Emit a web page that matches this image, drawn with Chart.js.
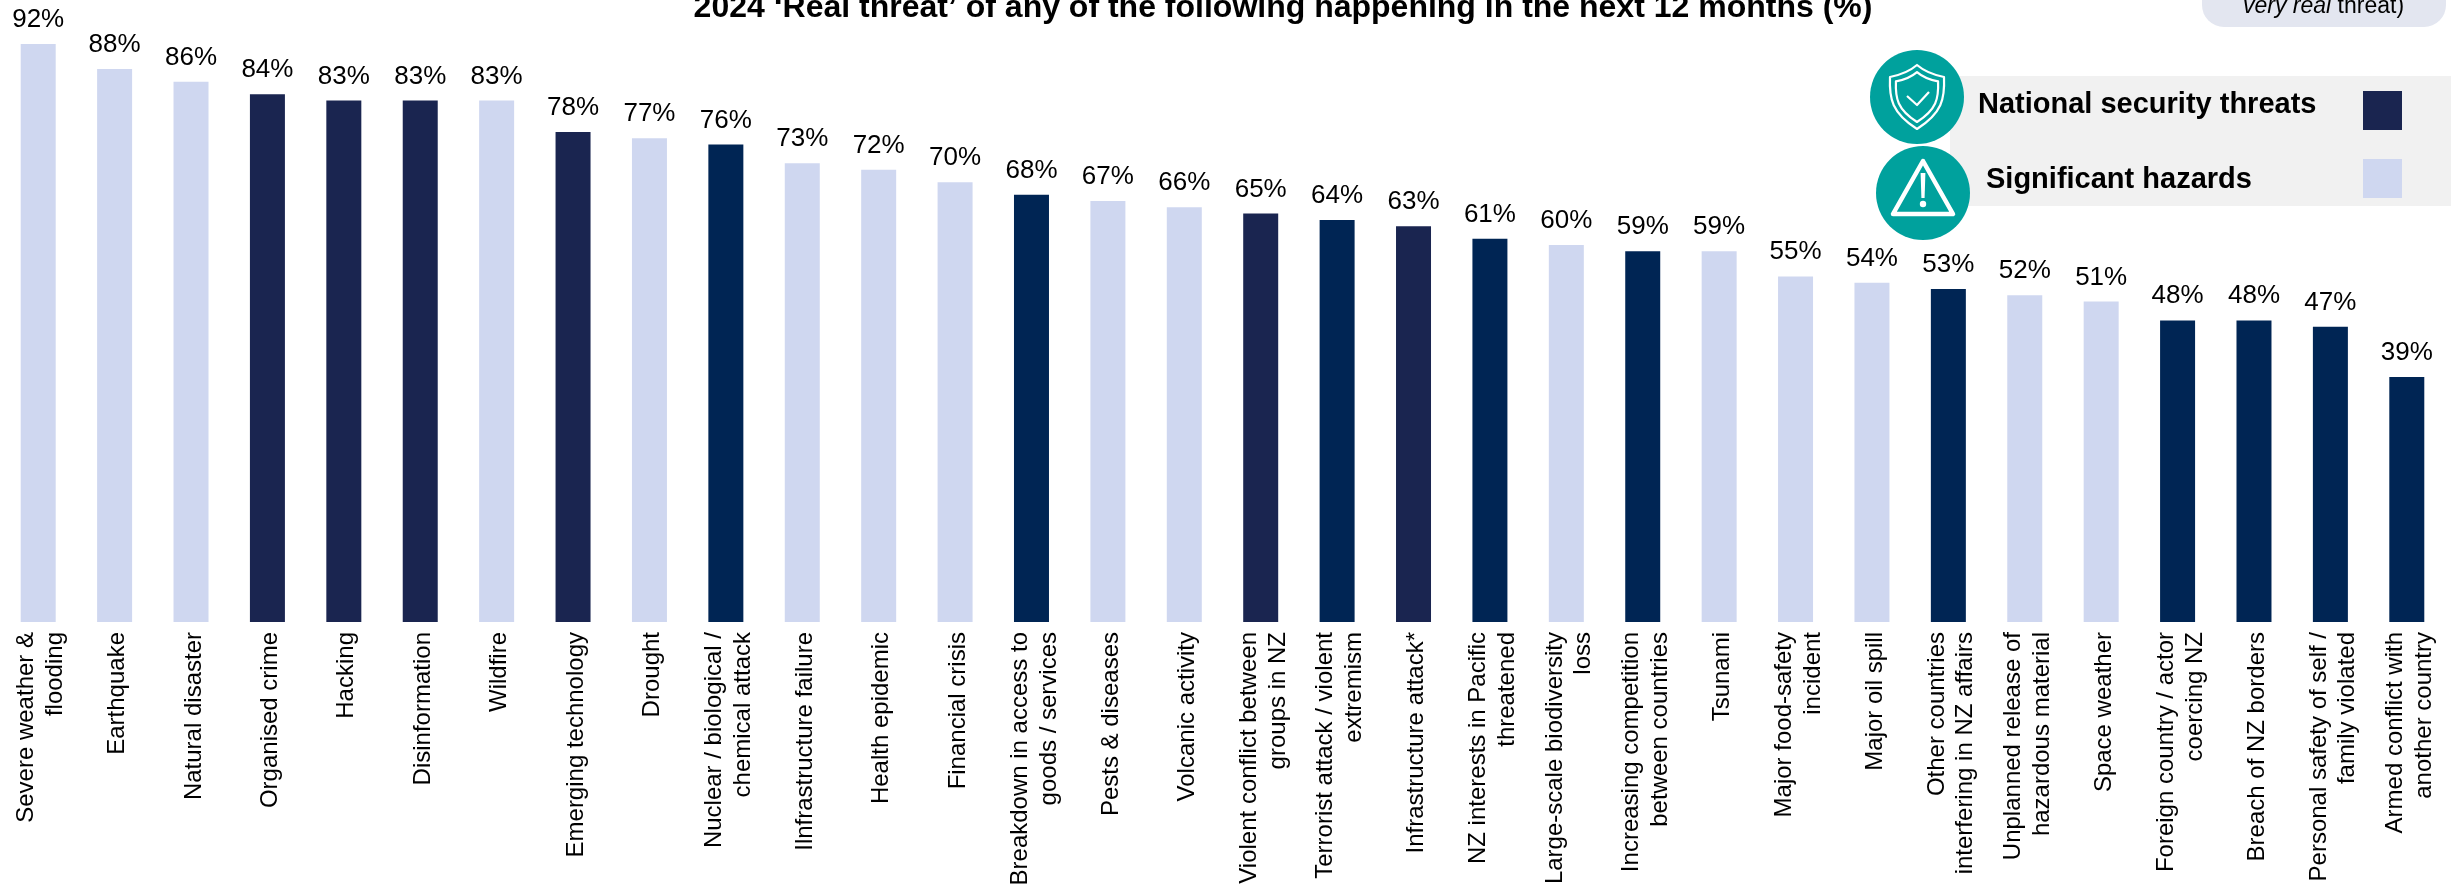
<!DOCTYPE html>
<html>
<head>
<meta charset="utf-8">
<style>
  html, body { margin: 0; padding: 0; background: #fff; overflow: hidden; }
  #wrap { position: relative; width: 2451px; height: 885px; }
</style>
<script src="https://cdn.jsdelivr.net/npm/chart.js@4/dist/chart.umd.min.js"></script>
</head>
<body>
<div id="wrap"><canvas id="chart" width="2451" height="885"></canvas></div>
<script>
const categories = [
  ["Severe weather &", "flooding"], "Earthquake", "Natural disaster", "Organised crime",
  "Hacking", "Disinformation", "Wildfire", "Emerging technology", "Drought",
  ["Nuclear / biological /", "chemical attack"], "Ilnfrastructure failure", "Health epidemic",
  "Financial crisis", ["Breakdown in access to", "goods / services"], "Pests & diseases",
  "Volcanic activity", ["Violent conflict between", "groups in NZ"],
  ["Terrorist attack / violent", "extremism"], "Infrastructure attack*",
  ["NZ interests in Pacific", "threatened"], ["Large-scale biodiversity", "loss"],
  ["Increasing competition", "between countries"], "Tsunami", ["Major food-safety", "incident"],
  "Major oil spill", ["Other countries", "interfering in NZ affairs"],
  ["Unplanned release of", "hazardous material"], "Space weather",
  ["Foreign country / actor", "coercing NZ"], "Breach of NZ borders",
  ["Personal safety of self /", "family violated"], ["Armed conflict with", "another country"]
];
const values = [92, 88, 86, 84, 83, 83, 83, 78, 77, 76, 73, 72, 70, 68, 67, 66,
                65, 64, 63, 61, 60, 59, 59, 55, 54, 53, 52, 51, 48, 48, 47, 39];
const groups = ["h", "h", "h", "s", "s", "s", "h", "s", "h", "n", "h", "h", "h", "n", "h", "h",
                "s", "n", "s", "n", "h", "n", "h", "h", "h", "n", "h", "h", "n", "n", "n", "n"];
const groupColours = { h: "#CFD7F0", s: "#1A2550", n: "#002554" };
const chartTitle = "2024 ‘Real threat’ of any of the following happening in the next 12 months (%)";
const legendLabels = ["National security threats", "Significant hazards"];

const FONT = '"Liberation Sans", Arial, sans-serif';
const TICK_SIZE = 24;
const TICK_LINE_HEIGHT = 1.2;

// Centres multi-line category labels on their bar instead of hanging them from the first line.
const centreTickLines = {
  id: "centreTickLines",
  beforeDraw(chart) {
    const step = TICK_SIZE * TICK_LINE_HEIGHT;
    chart.scales.x.getLabelItems(chart.chartArea).forEach((item) => {
      if (item.centred) return;
      item.centred = true;
      item.options.translation[0] += 3;
      if (Array.isArray(item.label)) {
        item.textOffset -= (item.label.length - 1) * step / 2;
      }
    });
  }
};

// Percentage figure above every bar, positioned from the bar element itself.
const valueLabels = {
  id: "valueLabels",
  afterDatasetsDraw(chart) {
    const { ctx } = chart;
    ctx.save();
    ctx.font = "26px " + FONT;
    ctx.fillStyle = "#000";
    ctx.textAlign = "center";
    ctx.textBaseline = "alphabetic";
    chart.getDatasetMeta(0).data.forEach((bar, i) => {
      ctx.fillText(values[i] + "%", bar.x, bar.y - 17);
    });
    ctx.restore();
  }
};

function shieldIcon(ctx, cx, cy) {
  ctx.save();
  ctx.translate(cx, cy);
  ctx.strokeStyle = "#fff";
  ctx.lineWidth = 2.2;
  ctx.lineJoin = "round";
  const outline = (s) => {
    ctx.beginPath();
    ctx.moveTo(0, -32 * s);
    ctx.bezierCurveTo(7 * s, -26 * s, 17 * s, -22 * s, 27 * s, -20 * s);
    ctx.bezierCurveTo(28 * s, 2 * s, 25 * s, 16 * s, 0, 32 * s);
    ctx.bezierCurveTo(-25 * s, 16 * s, -28 * s, 2 * s, -27 * s, -20 * s);
    ctx.bezierCurveTo(-17 * s, -22 * s, -7 * s, -26 * s, 0, -32 * s);
    ctx.closePath();
    ctx.stroke();
  };
  outline(1);
  outline(0.78);
  ctx.beginPath();
  ctx.moveTo(-10, -1);
  ctx.lineTo(0, 8);
  ctx.lineTo(12, -5);
  ctx.stroke();
  ctx.restore();
}

function warningIcon(ctx, cx, cy) {
  ctx.save();
  ctx.translate(cx, cy);
  ctx.strokeStyle = "#fff";
  ctx.fillStyle = "#fff";
  ctx.lineWidth = 4.5;
  ctx.lineJoin = "round";
  ctx.beginPath();
  ctx.moveTo(0, -32);
  ctx.lineTo(30, 21);
  ctx.lineTo(-30, 21);
  ctx.closePath();
  ctx.stroke();
  ctx.beginPath();
  ctx.moveTo(-2.4, -20);
  ctx.lineTo(2.4, -20);
  ctx.lineTo(1.6, 5);
  ctx.lineTo(-1.6, 5);
  ctx.closePath();
  ctx.fill();
  ctx.beginPath();
  ctx.arc(0, 11, 3.2, 0, Math.PI * 2);
  ctx.fill();
  ctx.restore();
}

// Heading, note pill and the icon legend around the plot.
const furniture = {
  id: "furniture",
  afterDraw(chart) {
    const { ctx } = chart;
    ctx.save();
    ctx.fillStyle = "#000";
    ctx.textBaseline = "alphabetic";

    ctx.font = "bold 32px " + FONT;
    ctx.textAlign = "center";
    ctx.fillText(chartTitle, 1283, 17);

    // Note pill, running off the top edge
    ctx.fillStyle = "#E3E6F0";
    ctx.beginPath();
    ctx.roundRect(2202, -40, 244, 67, 22);
    ctx.fill();
    ctx.fillStyle = "#000";
    ctx.textAlign = "left";
    ctx.font = "italic 23px " + FONT;
    ctx.fillText("very real", 2243, 13);
    const w = ctx.measureText("very real ").width;
    ctx.font = "23px " + FONT;
    ctx.fillText("threat)", 2243 + w, 13);

    // Legend band
    ctx.fillStyle = "#F1F1F1";
    ctx.fillRect(1950, 76, 501, 130);
    ctx.fillStyle = groupColours.s;
    ctx.fillRect(2363, 91, 39, 39);
    ctx.fillStyle = groupColours.h;
    ctx.fillRect(2363, 159, 39, 39);

    ctx.fillStyle = "#000";
    ctx.font = "bold 29px " + FONT;
    ctx.fillText(legendLabels[0], 1978, 113);
    ctx.fillText(legendLabels[1], 1986, 188);

    ctx.fillStyle = "#00A19D";
    ctx.beginPath();
    ctx.arc(1917, 97, 47, 0, Math.PI * 2);
    ctx.fill();
    ctx.beginPath();
    ctx.arc(1923, 193, 47, 0, Math.PI * 2);
    ctx.fill();
    shieldIcon(ctx, 1917, 97);
    warningIcon(ctx, 1923, 193);
    ctx.restore();
  }
};

new Chart(document.getElementById("chart"), {
  type: "bar",
  data: {
    labels: categories,
    datasets: [{
      data: values,
      backgroundColor: groups.map((g) => groupColours[g]),
      barPercentage: 0.458,
      categoryPercentage: 1
    }]
  },
  options: {
    responsive: false,
    animation: false,
    layout: { padding: { left: 0, right: 6, top: 0, bottom: 0 } },
    plugins: { legend: { display: false }, tooltip: { enabled: false } },
    scales: {
      x: {
        grid: { display: false, drawTicks: false },
        border: { display: false },
        afterFit(scale) {
          scale.height = 263;
          scale.paddingLeft = 0;
          scale.paddingRight = 0;
        },
        ticks: {
          autoSkip: false,
          minRotation: 90,
          maxRotation: 90,
          padding: 10,
          color: "#000",
          font: { family: FONT, size: TICK_SIZE, lineHeight: TICK_LINE_HEIGHT }
        }
      },
      y: { display: false, min: 0, max: 99 }
    }
  },
  plugins: [centreTickLines, valueLabels, furniture]
});
</script>
</body>
</html>
